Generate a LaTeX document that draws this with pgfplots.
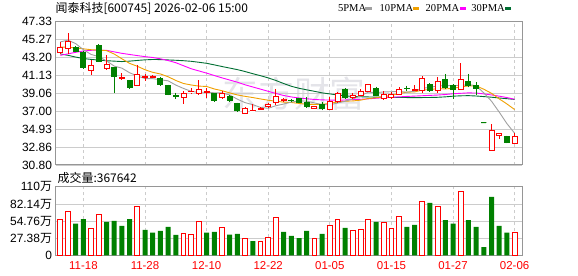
\documentclass[border=0pt]{standalone}
\usepackage{fontspec}
\setmainfont{Liberation Sans}
\newfontfamily\cjk{Noto Sans CJK SC}
\newfontfamily\serifleg{Liberation Serif}
\usepackage{pgfplots}
\pgfplotsset{compat=1.18}
\usepgfplotslibrary{statistics}
\definecolor{cred}{RGB}{255,0,0}
\definecolor{cgreen}{RGB}{0,128,0}
\definecolor{ma5}{RGB}{160,160,160}
\definecolor{ma10}{RGB}{240,160,0}
\definecolor{ma20}{RGB}{255,0,255}
\definecolor{ma30}{RGB}{0,110,50}
\definecolor{gridc}{RGB}{204,204,204}
\definecolor{framec}{RGB}{150,150,150}
\definecolor{wm}{RGB}{228,228,233}
% candle: index, open, high, low, close
\newcommand\rc[5]{\addplot[cred, fill=white, line width=0.9bp, boxplot prepared={draw position=#1, lower whisker=#4, lower quartile=#2, median=#2, upper quartile=#5, upper whisker=#3}] coordinates {};}
\newcommand\gc[5]{\addplot[cgreen, fill=cgreen, line width=0.9bp, boxplot prepared={draw position=#1, lower whisker=#4, lower quartile=#5, median=#5, upper quartile=#2, upper whisker=#3}] coordinates {};}
\begin{document}
\begin{tikzpicture}
\path[use as bounding box] (0,0) rectangle (578bp,276bp);
\node[text=wm, inner sep=0] at (294bp,182bp) {\cjk\fontsize{36}{36}\selectfont 东方财富};
\node[anchor=west, inner sep=0] at (55.5bp,267.5bp) {\cjk\fontsize{12}{12}\selectfont 闻泰科技[600745] 2026-02-06 15:00};
\node[anchor=west, inner sep=0] at (337.8bp,267.7bp) {\serifleg\fontsize{10.6}{11}\selectfont 5PMA};
\fill[ma5] (365bp,266bp) rectangle (372bp,269.3bp);
\node[anchor=west, inner sep=0] at (379.5bp,267.7bp) {\serifleg\fontsize{10.6}{11}\selectfont 10PMA};
\fill[ma10] (413.3bp,266bp) rectangle (419.3bp,269.3bp);
\node[anchor=west, inner sep=0] at (425.5bp,267.7bp) {\serifleg\fontsize{10.6}{11}\selectfont 20PMA};
\fill[ma20] (460bp,266bp) rectangle (466bp,269.3bp);
\node[anchor=west, inner sep=0] at (471.2bp,267.7bp) {\serifleg\fontsize{10.6}{11}\selectfont 30PMA};
\fill[ma30] (505bp,266bp) rectangle (511bp,269.3bp);
\node[anchor=west, inner sep=0] at (57.5bp,98.3bp) {\cjk\fontsize{12}{12}\selectfont 成交量:367642};

\begin{axis}[
  at={(55.7bp,111bp)}, anchor=south west, scale only axis,
  width=466.6bp, height=143.3bp,
  xmin=0.4, xmax=61, ymin=30.80, ymax=47.33,
  xtick={4,12,20,28,36,44,52,60}, xticklabels={},
  ytick={30.80,32.86,34.93,37.00,39.06,41.13,43.20,45.27,47.33},
  yticklabels={30.80,32.86,34.93,37.00,39.06,41.13,43.20,45.27,47.33},
  xmajorgrids, ymajorgrids,
  x grid style={gridc, dash pattern=on 3bp off 3bp, line width=0.8bp},
  y grid style={gridc, line width=0.8bp},
  axis line style={framec, line width=1bp},
  major tick length=0pt,
  /pgf/number format/assume math mode=true,
  tick label style={font=\fontsize{12}{12}\selectfont, text=black},
  yticklabel style={inner sep=0pt, xshift=-3.5bp},
  boxplot/draw direction=y,
  boxplot/box extend=0.65, boxplot/whisker extend=0,
]
\addplot[ma30, line width=0.9bp] coordinates {(1,43.62)(2,43.45)(3,43.25)(4,43.08)(5,42.98)(6,42.90)(7,42.83)(8,42.78)(9,42.73)(10,42.78)(11,42.86)(12,42.93)(13,42.97)(14,42.96)(15,42.92)(16,42.88)(17,42.83)(18,42.76)(19,42.65)(20,42.53)(21,42.35)(22,42.16)(23,41.98)(24,41.80)(25,41.58)(26,41.33)(27,41.10)(28,40.85)(29,40.55)(30,40.20)(31,39.88)(32,39.65)(33,39.47)(34,39.30)(35,39.12)(36,39.00)(37,38.88)(38,38.78)(39,38.70)(40,38.67)(41,38.65)(42,38.63)(43,38.62)(44,38.60)(45,38.59)(46,38.58)(47,38.58)(48,38.58)(49,38.59)(50,38.61)(51,38.66)(52,38.74)(53,38.78)(54,38.80)(55,38.76)(56,38.69)(57,38.62)(58,38.53)(59,38.45)(60,38.36)};
\addplot[ma20, line width=0.9bp] coordinates {(1,43.45)(2,43.62)(3,43.80)(4,43.95)(5,44.03)(6,44.05)(7,44.03)(8,43.85)(9,43.68)(10,43.55)(11,43.42)(12,43.30)(13,43.20)(14,43.05)(15,42.85)(16,42.60)(17,42.25)(18,41.90)(19,41.65)(20,41.40)(21,41.12)(22,40.85)(23,40.60)(24,40.35)(25,40.05)(26,39.80)(27,39.55)(28,39.30)(29,39.05)(30,38.82)(31,38.65)(32,38.53)(33,38.44)(34,38.36)(35,38.31)(36,38.29)(37,38.27)(38,38.30)(39,38.34)(40,38.38)(41,38.43)(42,38.50)(43,38.56)(44,38.61)(45,38.66)(46,38.71)(47,38.75)(48,38.79)(49,38.83)(50,38.87)(51,38.93)(52,39.02)(53,39.07)(54,39.12)(55,39.10)(56,39.00)(57,38.88)(58,38.74)(59,38.58)(60,38.38)};
\addplot[ma10, line width=0.9bp] coordinates {(1,44.4)(2,44.4)(3,44.3)(4,44.2)(5,44.1)(6,44.05)(7,44.0)(8,43.6)(9,43.05)(10,42.52)(11,42.19)(12,41.79)(13,41.49)(14,41.30)(15,40.98)(16,40.55)(17,40.20)(18,40.03)(19,39.90)(20,39.86)(21,39.57)(22,39.37)(23,39.12)(24,38.88)(25,38.72)(26,38.58)(27,38.42)(28,38.27)(29,38.16)(30,38.05)(31,38.01)(32,37.90)(33,37.80)(34,37.80)(35,37.80)(36,37.90)(37,38.08)(38,38.16)(39,38.19)(40,38.28)(41,38.47)(42,38.55)(43,38.69)(44,38.83)(45,39.04)(46,39.20)(47,39.23)(48,39.45)(49,39.50)(50,39.61)(51,39.58)(52,39.64)(53,39.81)(54,39.92)(55,39.93)(56,39.54)(57,39.07)(58,38.43)(59,37.84)(60,37.20)};
\addplot[ma5, line width=0.9bp] coordinates {(1,45.0)(2,45.2)(3,44.8)(4,44.1)(5,43.55)(6,43.31)(7,42.80)(8,42.21)(9,41.97)(10,41.44)(11,41.07)(12,40.77)(13,40.76)(14,40.63)(15,40.51)(16,40.02)(17,39.63)(18,39.30)(19,39.17)(20,39.21)(21,39.13)(22,39.11)(23,38.88)(24,38.39)(25,37.99)(26,37.76)(27,37.44)(28,37.34)(29,37.64)(30,37.83)(31,38.06)(32,38.20)(33,38.17)(34,37.96)(35,37.77)(36,37.74)(37,37.95)(38,38.16)(39,38.42)(40,38.79)(41,39.20)(42,39.15)(43,39.23)(44,39.25)(45,39.29)(46,39.20)(47,39.31)(48,39.67)(49,39.74)(50,39.93)(51,39.95)(52,39.98)(53,39.96)(54,40.09)(55,39.93)(56,39.12)(57,38.16)(58,36.90)(59,35.58)(60,34.47)};
\rc{1}{43.84}{44.97}{43.66}{44.33}
\rc{2}{44.22}{45.98}{43.66}{45.04}
\gc{3}{44.40}{44.55}{43.85}{43.92}
\gc{4}{43.84}{43.95}{41.95}{42.03}
\rc{5}{41.66}{42.90}{41.13}{42.34}
\gc{6}{44.59}{44.70}{42.70}{42.79}
\rc{7}{41.97}{43.47}{41.77}{42.42}
\gc{8}{42.08}{42.15}{39.14}{41.02}
\rc{9}{40.82}{41.40}{40.65}{40.86}
\gc{10}{40.53}{40.60}{39.65}{39.71}
\rc{11}{40.00}{42.34}{39.89}{41.21}
\rc{12}{40.93}{41.32}{40.45}{40.96}
\rc{13}{40.93}{41.20}{40.80}{40.96}
\gc{14}{40.84}{40.90}{40.00}{40.08}
\gc{15}{40.00}{40.08}{38.84}{38.95}
\gc{16}{38.78}{39.14}{38.39}{38.75}
\rc{17}{38.58}{39.32}{37.83}{39.07}
\rc{18}{39.24}{39.63}{38.95}{39.27}
\rc{19}{39.03}{40.61}{38.84}{39.52}
\rc{20}{39.20}{39.71}{38.50}{39.23}
\gc{21}{39.03}{39.10}{38.12}{38.20}
\rc{22}{38.58}{39.30}{38.50}{39.07}
\gc{23}{38.76}{38.85}{38.12}{38.20}
\gc{24}{37.94}{38.00}{36.98}{37.07}
\rc{25}{36.78}{37.52}{36.70}{37.37}
\rc{26}{37.05}{37.83}{37.05}{37.08}
\rc{27}{37.24}{37.52}{37.15}{37.27}
\rc{28}{37.52}{38.00}{37.40}{37.75}
\rc{29}{38.02}{39.52}{37.75}{38.65}
\rc{30}{38.30}{38.50}{38.10}{38.32}
\gc{31}{38.25}{38.40}{38.10}{38.23}
\gc{32}{38.42}{38.55}{37.95}{38.05}
\gc{33}{37.97}{38.61}{37.37}{37.59}
\rc{34}{37.37}{37.65}{37.30}{37.59}
\gc{35}{37.74}{38.03}{37.09}{37.37}
\rc{36}{37.21}{38.61}{37.21}{38.12}
\rc{37}{38.12}{39.17}{38.05}{39.10}
\gc{38}{39.56}{39.64}{38.45}{38.62}
\rc{39}{38.57}{39.10}{38.40}{38.88}
\rc{40}{38.88}{39.52}{38.72}{39.25}
\rc{41}{39.25}{40.13}{39.25}{40.13}
\gc{42}{39.64}{39.83}{38.72}{38.88}
\rc{43}{38.50}{39.37}{38.35}{38.99}
\rc{44}{38.60}{39.20}{38.45}{38.99}
\rc{45}{38.99}{39.83}{38.90}{39.48}
\gc{46}{39.65}{39.95}{39.30}{39.62}
\rc{47}{39.43}{40.00}{39.37}{39.47}
\rc{48}{39.37}{41.10}{39.10}{40.77}
\gc{49}{40.13}{40.25}{39.30}{39.37}
\rc{50}{39.37}{40.96}{39.06}{40.43}
\gc{51}{40.70}{41.30}{39.60}{39.75}
\gc{52}{39.94}{40.10}{38.40}{39.56}
\rc{53}{39.56}{42.52}{39.50}{40.70}
\gc{54}{40.43}{41.30}{39.75}{40.00}
\gc{55}{39.94}{40.40}{38.88}{39.64}
\gc{56}{35.68}{35.68}{35.68}{35.68}
\rc{57}{32.49}{35.57}{32.45}{34.75}
\rc{58}{34.18}{34.45}{33.80}{34.40}
\gc{59}{34.07}{34.20}{33.30}{33.42}
\rc{60}{33.23}{34.50}{33.23}{34.07}
\end{axis}

\begin{axis}[
  at={(55.7bp,20.7bp)}, anchor=south west, scale only axis,
  width=466.6bp, height=68.6bp,
  xmin=0.4, xmax=61, ymin=0, ymax=110,
  xtick={4,12,20,28,36,44,52,60},
  xticklabels={11-18,11-28,12-10,12-22,01-05,01-15,01-27,02-06},
  ytick={0,27.38,54.76,82.14,110},
  yticklabels={0,{27.38{\cjk 万}},{54.76{\cjk 万}},{82.14{\cjk 万}},{110{\cjk 万}}},
  xmajorgrids, ymajorgrids,
  x grid style={gridc, dash pattern=on 3bp off 3bp, line width=0.8bp},
  y grid style={gridc, line width=0.8bp},
  axis line style={framec, line width=1bp},
  major tick length=0pt,
  /pgf/number format/assume math mode=true,
  tick label style={font=\fontsize{12}{12}\selectfont, text=black},
  yticklabel style={inner sep=0pt, xshift=-3.5bp},
  xticklabel style={inner sep=0pt, yshift=-6.4bp, text=cred, font=\fontsize{11.5}{11.5}\selectfont},
]
\addplot[ybar, bar shift=0pt, bar width=0.62, draw=cred, fill=white, line width=0.9bp] coordinates {(1,57.7)(2,70.6)(5,43.3)(6,66.2)(11,78.6)(17,35.3)(18,33.7)(19,54.5)(22,44.9)(25,27.3)(27,22.4)(28,28.9)(29,60.9)(34,27.3)(36,48.1)(37,57.7)(39,40.1)(40,41.7)(41,57.7)(43,52.9)(44,43.3)(45,62.5)(48,86.6)(50,78.6)(53,102.6)(60,36.76)};
\addplot[ybar, bar shift=0pt, bar width=0.65, draw=none, fill=cgreen] coordinates {(3,50.7)(4,58.2)(7,53.4)(8,55.0)(9,47.0)(10,58.2)(12,40.6)(13,36.3)(14,39.0)(15,45.4)(16,32.6)(20,36.3)(21,37.4)(23,33.0)(24,34.2)(26,22.9)(30,37.4)(31,31.0)(32,27.7)(33,39.0)(35,34.2)(38,43.8)(42,53.4)(46,45.4)(47,48.6)(49,83.9)(51,56.6)(52,50.7)(54,56.6)(55,45.4)(56,13.3)(57,93.5)(58,47.0)(59,36.3)};
\end{axis}
\end{tikzpicture}
\end{document}
